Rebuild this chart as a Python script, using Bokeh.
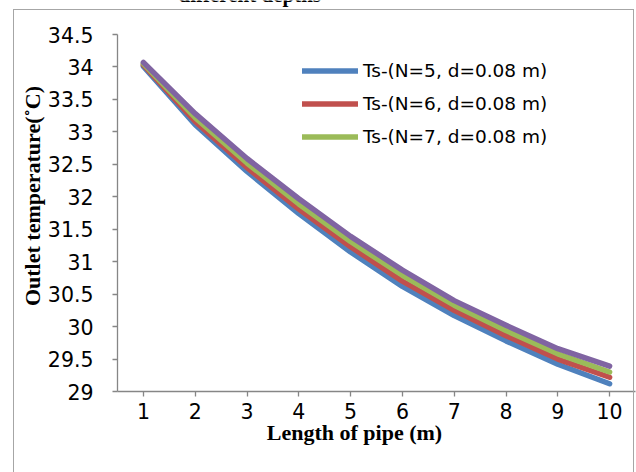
from bokeh.plotting import figure
from bokeh.models import FixedTicker, Label, Legend, LegendItem, Range1d, InlineStyleSheet
from bokeh.embed import file_html
from bokeh.resources import INLINE

# ---- data ----
length_m = [1, 2, 3, 4, 5, 6, 7, 8, 9, 10]
ts_n5 = [34.01, 33.11, 32.39, 31.74, 31.15, 30.62, 30.17, 29.78, 29.42, 29.12]
ts_n6 = [34.03, 33.16, 32.45, 31.81, 31.23, 30.70, 30.25, 29.86, 29.50, 29.22]
ts_n7 = [34.05, 33.22, 32.52, 31.89, 31.31, 30.79, 30.33, 29.94, 29.58, 29.30]
ts_n8 = [34.07, 33.28, 32.59, 31.97, 31.39, 30.87, 30.40, 30.02, 29.66, 29.39]
series_labels = ["Ts-(N=5, d=0.08 m)", "Ts-(N=6, d=0.08 m)", "Ts-(N=7, d=0.08 m)"]
y_ticks = [29, 29.5, 30, 30.5, 31, 31.5, 32, 32.5, 33, 33.5, 34, 34.5]
y_tick_labels = ["29", "29.5", "30", "30.5", "31", "31.5", "32", "32.5", "33", "33.5", "34", "34.5"]
x_ticks = [1, 2, 3, 4, 5, 6, 7, 8, 9, 10]

colors = ["#4F81BD", "#C0504D", "#9BBB59", "#8064A2"]
AX = "#868686"

# layout geometry: plot area x 117..635 px, value axis 34.5 at 34 px, 29 at 391 px
PX_PER_Y = 64.9
PX_PER_X = 51.8
Y_TOP = 34.5 + 34 / PX_PER_Y          # frame extended to the canvas top

def dx(px):
    return 0.5 + (px - 117) / PX_PER_X

def dy(py):
    return 29 + (391 - py) / PX_PER_Y

border_css = InlineStyleSheet(css="""
:host { position: relative; }
:host::after { content: ""; position: absolute; left: 13px; top: 9px; width: 621px; height: 500px;
  border: 1px solid #A6A6A6; pointer-events: none; box-sizing: border-box; }
""")

p = figure(width=636, height=472, output_backend="svg", toolbar_location=None,
           x_range=Range1d(0.5, 10.5), y_range=Range1d(29, Y_TOP),
           min_border_left=117, min_border_right=1, min_border_top=0, min_border_bottom=81,
           margin=(0, 0, 0, 0), stylesheets=[border_css])
p.outline_line_color = None
p.xgrid.visible = False
p.ygrid.visible = False
p.background_fill_color = "white"
p.border_fill_color = "white"

# cut-off title line at the top of the page
title = Label(x=dx(178), y=dy(7), text="different depths",
              text_font="Liberation Serif", text_font_style="bold", text_font_size="21px",
              text_color="black")
p.add_layout(title)

# lines
renderers = []
for ys, c in zip([ts_n5, ts_n6, ts_n7, ts_n8], colors):
    r = p.line(length_m, ys, line_width=5.5, line_color=c, line_cap="round", line_join="round")
    renderers.append(r)

# axes
for ax in (p.xaxis[0], p.yaxis[0]):
    ax.axis_line_color = AX
    ax.axis_line_width = 1.3
    ax.major_tick_line_color = AX
    ax.major_tick_line_width = 1.3
    ax.major_tick_out = 5
    ax.major_tick_in = 0
    ax.minor_tick_line_color = None
    ax.major_label_text_font = "DejaVu Sans"
    ax.major_label_text_font_size = "20.5px"
    ax.major_label_text_color = "black"
    ax.axis_label_text_font = "Liberation Serif"
    ax.axis_label_text_font_style = "bold"
    ax.axis_label_text_font_size = "22px"
    ax.axis_label_text_color = "black"

p.yaxis.ticker = FixedTicker(ticks=y_ticks)
p.yaxis.bounds = (y_ticks[0], y_ticks[-1])
p.yaxis.major_label_overrides = {t: l for t, l in zip(y_ticks, y_tick_labels)}
p.yaxis.major_label_standoff = 19
p.yaxis.axis_label = "Outlet temperature(\u02daC)"
p.yaxis.axis_label_standoff = 0
p.xaxis.ticker = FixedTicker(ticks=x_ticks)
p.xaxis.major_label_standoff = 6
p.xaxis.axis_label = "Length of pipe (m)" + "\u00a0" * 8
p.xaxis.axis_label_standoff = -2

legend = Legend(items=[LegendItem(label=series_labels[i], renderers=[renderers[i]]) for i in range(3)],
                location=(185, 238), glyph_width=56, glyph_height=33, label_height=33,
                spacing=0, padding=0, margin=0, label_standoff=5,
                label_text_font="DejaVu Sans", label_text_font_size="18.5px", label_text_color="black",
                background_fill_alpha=0, border_line_color=None)
p.add_layout(legend)

open("out.html", "w").write(file_html(p, INLINE))
